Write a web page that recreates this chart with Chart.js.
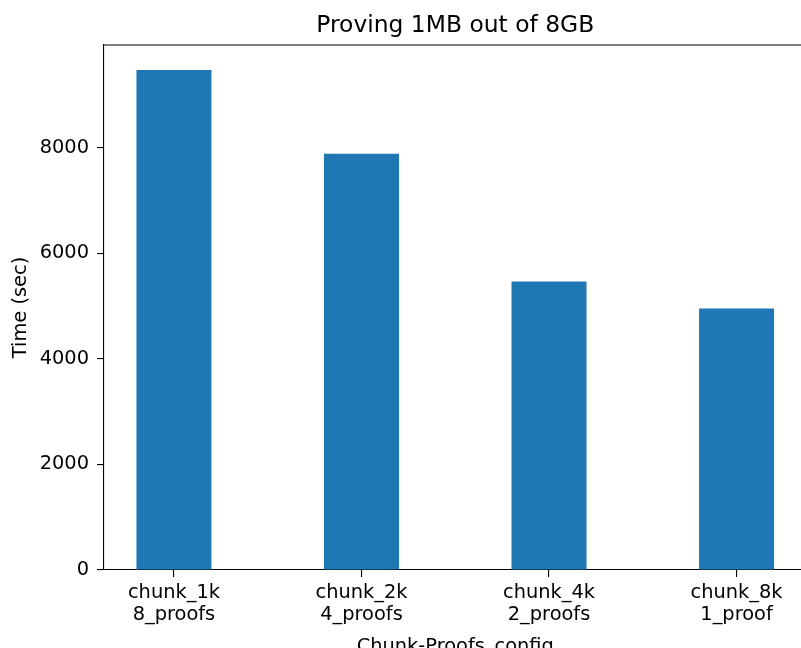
<!DOCTYPE html>
<html>
<head>
<meta charset="utf-8">
<script src="https://cdn.jsdelivr.net/npm/chart.js@4.4.1/dist/chart.umd.min.js"></script>
<style>
  html, body { margin: 0; padding: 0; overflow: hidden; background: #fff; }
  #wrap { position: absolute; left: 0; top: 0; }
</style>
</head>
<body>
<div id="wrap"><canvas id="chart" width="840" height="690"></canvas></div>
<script>
// Proving 1MB out of 8GB - bar chart
const chunkLabels = [['chunk_1k', '8_proofs'], ['chunk_2k', '4_proofs'], ['chunk_4k', '2_proofs'], ['chunk_8k', '1_proof']];
const timeSec = [9470, 7886, 5464, 4953];
const yTicks = [0, 2000, 4000, 6000, 8000];

const FONT = 'DejaVu Sans';
const TICK_SIZE = 19.4;

// top spine only, the right one is outside the crop anyway
const topSpine = {
    id: 'topSpine',
    afterDatasetsDraw(chart) {
        const { ctx, chartArea } = chart;
        ctx.save();
        ctx.strokeStyle = '#000';
        ctx.lineWidth = 1.1;
        ctx.beginPath();
        ctx.moveTo(chartArea.left, chartArea.top);
        ctx.lineTo(chartArea.right + 20, chartArea.top);
        ctx.stroke();
        ctx.restore();
    }
};

const ctx = document.getElementById('chart');
new Chart(ctx, {
    type: 'bar',
    data: {
        datasets: [{
            label: 'Time (sec)',
            data: timeSec.map((v, i) => ({ x: i, y: v })),
            backgroundColor: '#1f77b4',
            borderWidth: 0,
            barPercentage: 0.4,
            categoryPercentage: 1.0
        }]
    },
    options: {
        responsive: false,
        animation: false,
        devicePixelRatio: 1,
        layout: { padding: { left: 0, top: 0, right: 33.5, bottom: 0 } },
        plugins: {
            legend: { display: false },
            tooltip: { enabled: false },
            title: {
                display: true,
                text: 'Proving 1MB out of 8GB',
                fullSize: false,
                color: '#000',
                font: { family: FONT, size: 23.4, weight: 'normal' },
                padding: { top: 12, bottom: 4.9 }
            }
        },
        scales: {
            x: {
                type: 'linear',
                offset: false,
                min: -0.373,
                max: 3.373,
                afterBuildTicks: s => { s.ticks = chunkLabels.map((_, i) => ({ value: i })); },
                afterFit: s => { s.height = 120; },
                ticks: {
                    callback: (v) => chunkLabels[v],
                    color: '#000',
                    font: { family: FONT, size: TICK_SIZE, lineHeight: 1.15 },
                    padding: 5,
                    maxRotation: 0,
                    autoSkip: false
                },
                grid: { display: true, offset: false, drawOnChartArea: false, drawTicks: true, tickLength: 7, color: '#000', lineWidth: 1.1 },
                border: { display: true, color: '#000', width: 1.1 },
                title: {
                    display: true,
                    text: 'Chunk-Proofs_config',
                    color: '#000',
                    font: { family: FONT, size: TICK_SIZE },
                    padding: { top: 0, bottom: 31 }
                }
            },
            y: {
                min: 0,
                max: 9944,
                afterBuildTicks: s => { s.ticks = yTicks.map(v => ({ value: v })); },
                afterFit: s => { s.width = 104; },
                ticks: {
                    callback: (v) => String(v),
                    color: '#000',
                    font: { family: FONT, size: TICK_SIZE },
                    padding: 8
                },
                grid: { display: true, drawOnChartArea: false, drawTicks: true, tickLength: 7, color: '#000', lineWidth: 1.1 },
                border: { display: true, color: '#000', width: 1.1 },
                title: {
                    display: true,
                    text: 'Time (sec)',
                    color: '#000',
                    font: { family: FONT, size: TICK_SIZE },
                    padding: { top: 9, bottom: 0 }
                }
            }
        }
    },
    plugins: [topSpine]
});
</script>
</body>
</html>
